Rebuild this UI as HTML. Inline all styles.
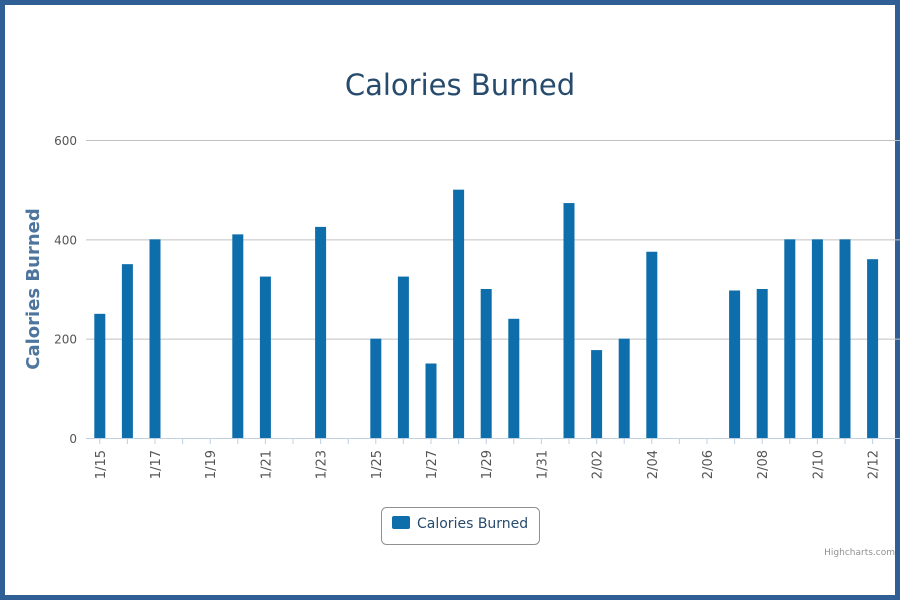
<!DOCTYPE html>
<html><head><meta charset="utf-8"><style>
html,body{margin:0;padding:0;}
body{width:900px;height:600px;overflow:hidden;background:#fff;}
#frame{position:absolute;left:0;top:0;width:890px;height:590px;border:5px solid #2f5f95;background:#fff;}
text{font-family:"DejaVu Sans","Liberation Sans",sans-serif;}
</style></head><body>
<div id="frame"></div>
<svg id="chart" width="900" height="600" style="position:absolute;left:0;top:0">
<text x="460" y="95" text-anchor="middle" font-size="29" fill="#274b6d">Calories Burned</text>
<text transform="translate(39,289) rotate(-90)" text-anchor="middle" font-size="18" font-weight="bold" fill="#4d759e" font-family="Liberation Sans, sans-serif">Calories Burned</text>
<g id="grid"></g><g id="bars"></g><g id="xaxis"></g>
<g>
<rect x="381.5" y="507.5" width="158" height="37" rx="5" fill="#fff" stroke="#909090"/>
<rect x="392" y="516" width="18" height="13" rx="2" fill="#0d6eab"/>
<text x="417" y="528" font-size="14" fill="#274b6d">Calories Burned</text>
</g>
<text x="895" y="555" text-anchor="end" font-size="9" fill="#909090">Highcharts.com</text>
</svg>
<script>
const categories=["1/15","1/16","1/17","1/18","1/19","1/20","1/21","1/22","1/23","1/24","1/25","1/26","1/27","1/28","1/29","1/30","1/31","2/01","2/02","2/03","2/04","2/05","2/06","2/07","2/08","2/09","2/10","2/11","2/12"];
const values=[250,350,400,0,0,410,325,0,425,0,200,325,150,500,300,240,0,473,177,200,375,0,0,297,300,400,400,400,360];
const yTicks=[0,200,400,600];
const NS="http://www.w3.org/2000/svg";
const x0=86,step=27.6,yBase=438,yTop=140,yMax=600;
const y=v=>yBase-(v/yMax)*(yBase-yTop);
const xc=i=>x0+step*(i+0.5);
function mk(tag,attrs,parent){const e=document.createElementNS(NS,tag);for(const k in attrs)e.setAttribute(k,attrs[k]);parent.appendChild(e);return e;}
const grid=document.getElementById('grid'),bars=document.getElementById('bars'),xa=document.getElementById('xaxis');
yTicks.forEach(t=>{
 if(t>0){const l=mk('line',{x1:x0,x2:900,y1:y(t)+0.5,y2:y(t)+0.5,stroke:'#c0c0c0'},grid);
 
 }
 const tx=mk('text',{x:77,y:y(t)+5,'text-anchor':'end','font-size':12,fill:'#555'},grid);
 tx.textContent=t;
 
 
});
const ax=mk('line',{x1:x0,x2:900,y1:yBase+0.5,y2:yBase+0.5,stroke:'#c0d0e0'},xa);


categories.forEach((c,i)=>{
 const v=values[i];
 if(v>0){const r=mk('rect',{x:xc(i)-5.5,y:y(v),width:11,height:yBase-y(v),fill:'#0d6eab'},bars);
 
 }
 const tk=mk('line',{x1:xc(i),x2:xc(i),y1:yBase,y2:yBase+6,stroke:'#c0d0e0'},xa);
 
 
 if(i%2===0){const t=mk('text',{transform:`translate(${xc(i)+5},${yBase+12}) rotate(-90)`,'text-anchor':'end','font-size':13,fill:'#555'},xa);
 t.textContent=c;
 
 }
});
</script>
</body></html>
